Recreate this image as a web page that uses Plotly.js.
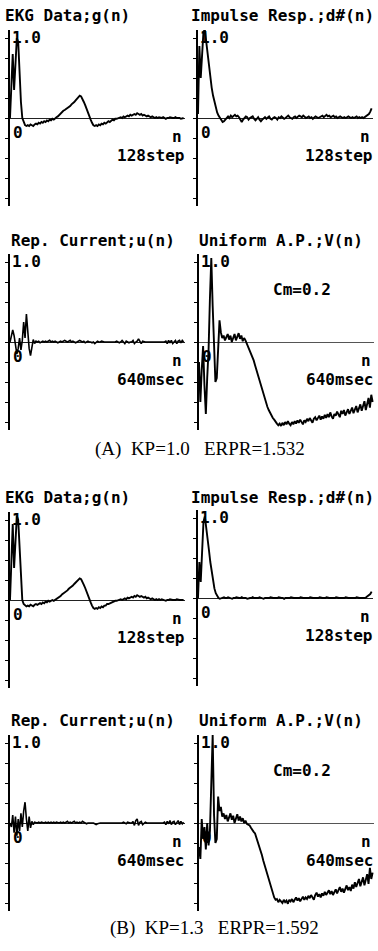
<!DOCTYPE html>
<html>
<head>
<meta charset="utf-8">
<script src="https://cdn.plot.ly/plotly-3.0.1.min.js"></script>
<style>html,body{margin:0;padding:0;background:#fff;}#chart{width:378px;height:951px;}</style>
</head>
<body>
<div id="chart"></div>
<script>
// ---- DATA ----
const n = Array.from({length: 128}, (_, i) => i);

const ekgA = [0.00,0.45,0.80,0.35,0.70,1.00,0.95,0.55,0.20,0.00,
 -0.06,-0.09,-0.10,-0.09,-0.10,-0.08,-0.09,-0.10,-0.08,-0.07,
 -0.08,-0.06,-0.07,-0.05,-0.06,-0.04,-0.05,-0.03,-0.04,-0.02,
 -0.03,-0.01,-0.02,0.00,0.01,0.02,0.04,0.06,0.07,0.09,
 0.10,0.11,0.13,0.14,0.15,0.17,0.18,0.20,0.22,0.24,
 0.26,0.28,0.27,0.24,0.20,0.16,0.11,0.06,0.02,-0.02,
 -0.06,-0.09,-0.10,-0.09,-0.10,-0.08,-0.09,-0.07,-0.08,-0.06,
 -0.07,-0.05,-0.04,-0.05,-0.03,-0.02,-0.03,-0.01,-0.01,0.00,
 0.00,0.01,0.00,0.02,0.01,0.02,0.03,0.02,0.04,0.03,
 0.04,0.05,0.04,0.06,0.05,0.04,0.05,0.03,0.04,0.03,
 0.02,0.03,0.02,0.01,0.02,0.01,0.00,0.01,0.00,0.01,
 0.00,0.00,0.01,0.00,-0.01,0.00,0.00,0.01,0.00,0.00,
 0.00,0.01,0.00,0.00,0.00,-0.01,0.00,0.00];

const impA = [0.05,0.90,0.50,0.75,1.08,1.10,0.95,0.80,0.62,0.50,
 0.38,0.28,0.20,0.13,0.07,0.03,0.00,-0.03,-0.05,-0.04,
 -0.02,0.01,0.02,0.00,0.03,0.01,0.02,0.04,0.02,0.03,
 0.01,-0.03,-0.05,-0.02,0.00,0.02,0.01,-0.02,0.00,0.01,
 0.02,-0.01,-0.03,-0.01,0.01,-0.02,-0.04,-0.02,0.00,0.01,
 -0.01,0.00,0.02,-0.01,-0.02,0.00,0.01,0.00,-0.02,0.01,
 0.00,0.02,0.01,-0.01,0.00,0.02,0.03,0.01,0.00,-0.01,
 0.01,0.02,0.00,0.01,0.03,0.02,0.01,0.03,0.02,0.00,
 0.01,0.02,0.00,0.01,-0.01,0.00,0.02,0.01,0.00,0.01,
 0.02,0.03,0.01,0.02,0.04,0.02,0.03,0.01,0.02,0.03,
 0.01,0.02,0.00,0.01,0.02,0.01,0.00,0.01,0.00,0.01,
 0.02,0.01,0.00,0.01,0.00,0.01,0.02,0.00,0.01,0.00,
 0.01,0.00,0.01,0.02,0.03,0.05,0.08,0.12];

const repA = [0.00,0.10,0.15,0.08,-0.05,-0.15,-0.08,0.05,-0.10,0.02,
 0.25,0.05,0.35,0.12,-0.08,-0.17,-0.06,0.03,-0.02,0.01,
 0.00,0.01,-0.01,0.00,0.01,0.00,0.01,0.00,0.01,0.02,
 0.00,0.01,0.00,0.01,0.00,-0.01,0.00,0.01,0.00,0.01,
 0.02,0.01,0.00,0.01,0.02,0.00,0.01,0.00,-0.01,0.00,
 0.01,0.02,0.01,0.00,0.01,-0.01,0.00,0.01,0.00,0.00,
 -0.01,0.00,-0.02,0.00,0.01,0.00,0.00,0.01,0.00,0.00,
 0.00,0.00,0.00,0.00,0.00,0.00,0.00,0.00,0.01,0.00,
 -0.01,0.00,0.02,0.00,-0.02,0.01,0.00,-0.01,0.00,0.00,
 0.02,-0.02,0.00,0.01,0.04,0.00,-0.02,0.01,0.00,0.00,
 0.00,0.00,0.00,0.00,0.00,0.00,0.00,0.00,0.00,0.00,
 0.00,0.00,0.00,0.00,0.01,-0.02,0.02,-0.01,0.02,-0.02,
 0.00,0.02,-0.02,0.01,0.02,-0.01,0.02,0.00];

const uniA = [-0.25,-0.75,-0.35,-0.05,-0.55,-0.90,-0.45,-0.10,0.55,1.05,
 0.45,-0.20,-0.50,-0.45,-0.10,0.27,0.12,0.05,0.08,0.02,
 0.06,0.10,0.03,0.08,0.00,0.06,0.10,0.02,0.07,0.11,
 0.04,0.08,0.01,0.05,0.02,-0.02,-0.06,-0.10,-0.15,-0.19,
 -0.23,-0.29,-0.35,-0.41,-0.46,-0.51,-0.56,-0.62,-0.69,-0.75,
 -0.81,-0.85,-0.89,-0.92,-0.95,-0.97,-1.00,-1.02,-1.04,-1.02,
 -1.05,-1.01,-1.04,-1.00,-1.03,-0.99,-1.02,-1.04,-1.00,-1.03,
 -0.99,-1.02,-0.98,-1.01,-0.97,-1.00,-1.03,-0.98,-1.00,-0.96,
 -0.99,-0.95,-0.98,-1.01,-0.96,-0.94,-0.98,-0.95,-0.92,-0.97,
 -0.93,-0.96,-0.91,-0.95,-0.90,-0.94,-0.88,-0.93,-0.96,-0.90,
 -0.92,-0.87,-0.91,-0.94,-0.86,-0.90,-0.85,-0.92,-0.88,-0.84,
 -0.90,-0.86,-0.82,-0.89,-0.85,-0.80,-0.88,-0.83,-0.78,-0.86,
 -0.80,-0.74,-0.85,-0.78,-0.70,-0.82,-0.66,-0.75];

const ekgB = [0.00,0.60,0.95,0.40,0.75,1.05,1.00,0.60,0.20,0.00,
 -0.05,-0.07,-0.08,-0.07,-0.08,-0.06,-0.07,-0.08,-0.06,-0.05,
 -0.06,-0.05,-0.04,-0.05,-0.03,-0.04,-0.02,-0.03,-0.01,-0.02,
 -0.01,0.00,-0.01,0.00,0.01,0.02,0.03,0.05,0.07,0.08,
 0.09,0.11,0.12,0.14,0.15,0.16,0.18,0.20,0.22,0.24,
 0.25,0.27,0.26,0.23,0.19,0.15,0.10,0.05,0.01,-0.03,
 -0.07,-0.10,-0.11,-0.10,-0.11,-0.09,-0.10,-0.08,-0.09,-0.07,
 -0.07,-0.05,-0.05,-0.04,-0.03,-0.03,-0.02,-0.01,-0.01,0.00,
 0.00,0.01,0.00,0.01,0.02,0.01,0.03,0.02,0.03,0.04,
 0.03,0.05,0.04,0.06,0.05,0.04,0.05,0.04,0.03,0.04,
 0.02,0.03,0.02,0.01,0.02,0.01,0.00,0.01,0.00,0.01,
 0.00,0.01,0.00,0.00,-0.01,0.00,0.00,0.01,0.00,0.00,
 0.00,0.00,0.01,0.00,0.00,0.00,0.00,0.00];

const impB = [0.00,0.45,0.20,0.60,0.95,1.02,0.90,0.75,0.60,0.45,
 0.33,0.22,0.12,0.06,0.02,0.00,-0.01,0.00,0.00,0.01,
 0.00,0.00,0.01,0.00,0.00,-0.01,0.00,0.00,0.01,0.00,
 0.00,0.00,0.01,0.00,0.00,0.00,-0.01,0.00,0.00,0.00,
 0.01,0.00,0.00,0.00,0.00,0.01,0.00,0.00,-0.01,0.00,
 0.00,0.00,0.00,0.01,0.00,0.00,0.00,0.00,0.00,0.01,
 0.00,0.00,0.00,-0.01,0.00,0.00,0.00,0.00,0.01,0.00,
 0.00,0.00,0.00,0.00,0.00,0.01,0.00,0.00,0.00,0.00,
 0.00,0.00,0.01,0.00,0.00,0.00,0.00,0.00,0.00,0.01,
 0.00,0.00,0.00,0.00,0.01,0.00,0.00,0.00,0.00,0.00,
 0.00,0.01,0.00,0.00,0.00,0.00,0.00,0.00,0.01,0.00,
 0.00,0.00,0.00,0.00,0.00,0.00,0.01,0.00,0.00,0.00,
 0.00,0.00,0.00,0.01,0.02,0.03,0.05,0.08];

const repB = [0.00,-0.05,0.10,-0.12,0.08,-0.16,0.05,-0.10,0.12,-0.05,
 0.15,0.26,0.05,-0.10,0.08,-0.06,0.02,-0.02,0.01,0.00,
 0.00,0.01,0.00,0.01,0.00,0.00,0.01,0.00,0.01,0.00,
 0.01,0.00,0.01,0.00,0.01,0.00,0.00,0.01,0.00,0.01,
 0.00,0.01,0.02,0.00,0.01,0.00,0.01,0.02,0.00,0.01,
 0.00,0.01,0.00,0.02,0.01,0.00,-0.01,0.00,0.00,0.00,
 0.00,0.00,-0.01,-0.02,-0.01,0.00,0.00,0.00,0.00,0.00,
 0.00,0.00,0.00,0.00,0.00,0.00,0.00,0.00,0.00,0.00,
 0.00,0.00,0.00,0.01,0.00,-0.01,0.01,0.00,0.00,0.00,
 0.02,-0.03,0.03,0.05,-0.03,0.01,0.02,-0.02,0.00,0.01,
 0.00,0.00,0.00,0.00,0.00,0.00,0.00,0.00,0.00,0.00,
 0.00,0.00,0.00,0.01,-0.02,0.02,-0.01,0.03,-0.02,0.01,
 0.02,-0.02,0.01,0.03,-0.02,0.02,-0.01,0.01];

const uniB = [-0.30,-0.45,0.05,-0.20,-0.05,-0.33,0.00,-0.28,-0.10,0.40,
 1.10,0.10,-0.25,-0.20,0.33,0.15,0.20,0.08,0.12,0.05,
 0.10,0.02,0.08,0.12,0.04,0.09,0.00,0.07,0.11,0.03,
 0.08,0.02,0.06,0.00,0.03,-0.01,-0.02,-0.03,-0.06,-0.09,
 -0.11,-0.13,-0.18,-0.23,-0.28,-0.34,-0.40,-0.47,-0.53,-0.60,
 -0.66,-0.72,-0.78,-0.84,-0.89,-0.93,-0.96,-0.95,-0.99,-0.96,
 -0.98,-1.00,-0.96,-0.99,-0.97,-1.01,-0.96,-0.98,-0.95,-0.99,
 -0.96,-0.93,-0.97,-0.94,-0.98,-0.95,-0.92,-0.96,-0.93,-0.95,
 -0.91,-0.94,-0.90,-0.93,-0.96,-0.90,-0.87,-0.92,-0.89,-0.93,
 -0.88,-0.91,-0.86,-0.90,-0.87,-0.84,-0.89,-0.85,-0.90,-0.86,
 -0.83,-0.88,-0.84,-0.80,-0.86,-0.82,-0.87,-0.81,-0.78,-0.84,
 -0.80,-0.85,-0.77,-0.82,-0.74,-0.80,-0.76,-0.70,-0.79,-0.73,
 -0.68,-0.78,-0.72,-0.64,-0.76,-0.56,-0.70,-0.62];

const titles = ['EKG Data;g(n)', 'Impulse Resp.;d#(n)', 'Rep. Current;u(n)', 'Uniform A.P.;V(n)'];
const unitLabels = ['128step', '128step', '640msec', '640msec'];
const topLabel = '1.0';
const cmLabel = 'Cm=0.2';
const captions = ['(A)\u00a0\u00a0KP=1.0\u00a0\u00a0\u00a0ERPR=1.532', '(B)\u00a0\u00a0KP=1.3\u00a0\u00a0\u00a0ERPR=1.592'];

// ---- LAYOUT ----
const W = 378, H = 951;
const PW = 175, HALF = 88;
const mono = {family: 'DejaVu Sans Mono, monospace', size: 16, color: '#000', weight: 'bold'};
const serif = {family: 'Liberation Serif, serif', size: 19, color: '#000'};

const panels = [
  {y: ekgA, t: 0, left: 10,  zero: 118, tx: 4,   ty: 15},
  {y: impA, t: 1, left: 198, zero: 118, tx: 190, ty: 15},
  {y: repA, t: 2, left: 10,  zero: 342, tx: 10,  ty: 240},
  {y: uniA, t: 3, left: 199, zero: 342, tx: 198, ty: 240},
  {y: ekgB, t: 0, left: 10,  zero: 600, tx: 4,   ty: 497},
  {y: impB, t: 1, left: 198, zero: 598, tx: 190, ty: 497},
  {y: repB, t: 2, left: 10,  zero: 823, tx: 10,  ty: 720},
  {y: uniB, t: 3, left: 199, zero: 823, tx: 198, ty: 720}
];

const data = [];
const layout = {
  width: W, height: H,
  margin: {l: 0, r: 0, t: 0, b: 0},
  paper_bgcolor: '#fff', plot_bgcolor: '#fff',
  showlegend: false,
  annotations: []
};

panels.forEach((p, i) => {
  const k = i + 1;
  const xa = 'x' + k, ya = 'y' + k;
  data.push({
    x: n, y: p.y, xaxis: xa, yaxis: ya, type: 'scatter', mode: 'lines',
    line: {color: '#000', width: p.t === 2 ? 1.6 : 1.9},
    hoverinfo: 'skip', cliponaxis: true
  });
  layout['xaxis' + k] = {
    domain: [p.left / W, (p.left + PW) / W], range: [0, 128], anchor: ya,
    showline: false, showgrid: false, zeroline: false, showticklabels: false, ticks: '', fixedrange: true
  };
  layout['yaxis' + k] = {
    domain: [1 - (p.zero + HALF) / H, 1 - (p.zero - HALF) / H], range: [-1.1, 1.1], anchor: xa,
    showline: true, linecolor: '#000', linewidth: 2,
    ticks: 'outside', ticklen: 3, tickwidth: 1, tickcolor: '#000', dtick: 0.25, tick0: 0,
    showgrid: false, showticklabels: false,
    zeroline: true, zerolinecolor: p.t === 3 ? '#555' : '#222', zerolinewidth: 1, fixedrange: true
  };
  const A = layout.annotations;
  A.push({xref: 'paper', yref: 'paper', x: p.tx / W, y: 1 - p.ty / H, xanchor: 'left', yanchor: 'middle',
          text: titles[p.t], showarrow: false, font: mono, borderpad: 0});
  A.push({xref: xa, yref: ya, x: 0, y: 1.0, xanchor: 'left', yanchor: 'middle', xshift: 1, yshift: 1,
          text: topLabel, showarrow: false, font: mono, borderpad: 0});
  A.push({xref: xa, yref: ya, x: 0, y: 0, xanchor: 'left', yanchor: 'top', xshift: 2, yshift: -4,
          text: '0', showarrow: false, font: mono, borderpad: 0});
  A.push({xref: xa, yref: ya, x: 128, y: 0, xanchor: 'right', yanchor: 'top', xshift: -2, yshift: -8,
          text: 'n', showarrow: false, font: mono, borderpad: 0});
  A.push({xref: xa, yref: ya, x: 128, y: 0, xanchor: 'right', yanchor: 'top', xshift: 0, yshift: -27,
          text: unitLabels[p.t], showarrow: false, font: mono, borderpad: 0});
  if (p.t === 3) {
    A.push({xref: xa, yref: ya, x: 75, y: 0.66, xanchor: 'center', yanchor: 'middle',
            text: cmLabel, showarrow: false, font: mono, borderpad: 0});
  }
});

layout.annotations.push({xref: 'paper', yref: 'paper', x: 200 / W, y: 1 - 449 / H, xanchor: 'center', yanchor: 'middle',
  text: captions[0], showarrow: false, font: serif});
layout.annotations.push({xref: 'paper', yref: 'paper', x: 214 / W, y: 1 - 928 / H, xanchor: 'center', yanchor: 'middle',
  text: captions[1], showarrow: false, font: serif});

Plotly.newPlot('chart', data, layout, {staticPlot: true, displayModeBar: false});
</script>
</body>
</html>
